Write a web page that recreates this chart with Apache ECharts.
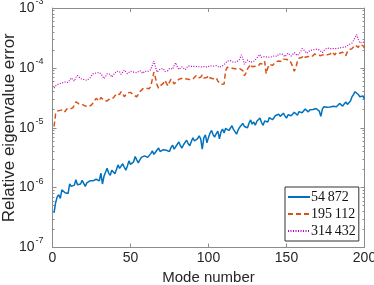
<!DOCTYPE html>
<html><head><meta charset="utf-8">
<script src="https://cdn.jsdelivr.net/npm/echarts@6/dist/echarts.min.js"></script>
<style>html,body{margin:0;padding:0;background:#fff}#c{width:374px;height:285px}</style>
</head><body><div id="c"></div>
<script>
const seriesNames = ['54\u2009872', '195\u2009112', '314\u2009432'];
const xTicks = [0, 50, 100, 150, 200];
const yTicks = [1e-7, 1e-6, 1e-5, 1e-4, 1e-3];
const err54872 = [
0.38e-6,0.56e-6,0.70e-6,0.76e-6,0.66e-6,0.92e-6,0.88e-6,0.82e-6,0.85e-6,0.80e-6,
1.15e-6,1.05e-6,0.98e-6,1.10e-6,1.35e-6,1.12e-6,1.20e-6,1.15e-6,1.32e-6,1.25e-6,
1.05e-6,1.20e-6,1.28e-6,1.30e-6,1.40e-6,1.30e-6,1.22e-6,1.38e-6,1.45e-6,1.30e-6,
1.75e-6,1.15e-6,1.55e-6,1.60e-6,2.10e-6,1.75e-6,1.60e-6,1.95e-6,2.05e-6,1.70e-6,
2.00e-6,2.40e-6,2.10e-6,1.95e-6,2.50e-6,2.20e-6,1.95e-6,2.30e-6,2.80e-6,2.45e-6,
2.30e-6,2.70e-6,3.30e-6,2.90e-6,2.60e-6,2.90e-6,3.20e-6,3.00e-6,3.40e-6,3.60e-6,
3.20e-6,3.40e-6,3.70e-6,4.10e-6,3.60e-6,3.90e-6,4.10e-6,4.60e-6,4.00e-6,3.80e-6,
4.30e-6,4.60e-6,4.20e-6,4.50e-6,4.00e-6,4.70e-6,5.10e-6,4.40e-6,4.70e-6,5.30e-6,
5.80e-6,5.00e-6,4.60e-6,5.20e-6,5.60e-6,6.20e-6,5.40e-6,5.00e-6,5.90e-6,6.80e-6,
6.00e-6,5.60e-6,6.60e-6,7.30e-6,6.50e-6,4.40e-6,6.80e-6,7.60e-6,5.60e-6,6.90e-6,
8.20e-6,9.00e-6,7.60e-6,7.00e-6,8.00e-6,8.80e-6,6.50e-6,8.50e-6,9.50e-6,8.20e-6,
9.80e-6,10.5e-6,9.00e-6,9.80e-6,10.8e-6,9.40e-6,8.60e-6,7.80e-6,9.20e-6,10.2e-6,
11.0e-6,11.8e-6,10.5e-6,11.2e-6,10.0e-6,12.0e-6,13.5e-6,11.5e-6,12.5e-6,11.0e-6,
12.8e-6,13.8e-6,14.5e-6,12.2e-6,11.0e-6,13.0e-6,14.0e-6,12.5e-6,14.8e-6,15.5e-6,
13.6e-6,14.2e-6,16.0e-6,15.2e-6,16.8e-6,15.5e-6,16.0e-6,17.5e-6,15.8e-6,14.5e-6,
16.5e-6,17.2e-6,15.9e-6,16.5e-6,18.2e-6,17.0e-6,16.2e-6,18.6e-6,19.5e-6,17.8e-6,
19.0e-6,20.5e-6,19.2e-6,18.4e-6,20.0e-6,21.5e-6,20.2e-6,19.5e-6,21.0e-6,22.0e-6,
19.0e-6,15.5e-6,20.5e-6,22.5e-6,21.0e-6,22.0e-6,23.5e-6,22.2e-6,21.0e-6,22.8e-6,
24.0e-6,22.5e-6,23.0e-6,25.5e-6,24.0e-6,23.0e-6,25.0e-6,27.0e-6,24.5e-6,26.0e-6,
28.0e-6,33.0e-6,36.0e-6,40.0e-6,43.0e-6,36.0e-6,33.0e-6,35.0e-6,34.0e-6,30.0e-6
];
const err195112 = [
1.05e-5,1.70e-5,1.90e-5,2.05e-5,1.95e-5,2.10e-5,2.00e-5,1.85e-5,2.05e-5,2.20e-5,
2.05e-5,1.95e-5,2.15e-5,2.40e-5,2.70e-5,2.55e-5,2.50e-5,2.65e-5,2.45e-5,2.35e-5,
2.30e-5,2.35e-5,2.25e-5,2.30e-5,2.40e-5,2.60e-5,2.70e-5,3.10e-5,2.95e-5,2.80e-5,
3.20e-5,3.05e-5,2.85e-5,2.75e-5,2.80e-5,2.95e-5,3.10e-5,3.30e-5,3.15e-5,3.40e-5,
3.70e-5,3.45e-5,3.60e-5,4.00e-5,3.70e-5,3.30e-5,3.50e-5,3.80e-5,4.10e-5,3.90e-5,
3.70e-5,3.50e-5,3.40e-5,3.30e-5,3.60e-5,4.00e-5,4.30e-5,4.50e-5,4.80e-5,4.60e-5,
4.70e-5,4.50e-5,4.90e-5,6.50e-5,8.50e-5,6.80e-5,5.20e-5,4.60e-5,5.00e-5,4.70e-5,
5.50e-5,6.20e-5,5.80e-5,5.00e-5,5.80e-5,6.50e-5,6.00e-5,5.40e-5,5.80e-5,6.20e-5,
5.90e-5,6.60e-5,6.20e-5,6.80e-5,7.20e-5,6.50e-5,6.10e-5,6.40e-5,6.90e-5,6.50e-5,
7.00e-5,7.40e-5,6.80e-5,6.50e-5,7.00e-5,7.60e-5,6.80e-5,6.30e-5,6.90e-5,7.50e-5,
6.80e-5,7.20e-5,6.60e-5,6.20e-5,6.80e-5,6.00e-5,5.60e-5,5.30e-5,5.10e-5,5.40e-5,
9.00e-5,10.2e-5,9.60e-5,10.0e-5,9.40e-5,9.80e-5,9.20e-5,9.60e-5,10.0e-5,9.70e-5,
10.4e-5,9.00e-5,7.40e-5,8.20e-5,9.60e-5,10.5e-5,11.5e-5,10.4e-5,9.80e-5,10.6e-5,
11.2e-5,10.8e-5,11.8e-5,12.4e-5,11.6e-5,12.8e-5,8.00e-5,10.0e-5,11.5e-5,12.2e-5,
11.0e-5,11.8e-5,12.6e-5,12.0e-5,13.0e-5,13.5e-5,12.8e-5,14.0e-5,13.2e-5,13.8e-5,
14.5e-5,13.5e-5,12.0e-5,10.5e-5,8.80e-5,10.0e-5,13.0e-5,14.5e-5,14.0e-5,15.0e-5,
16.2e-5,15.0e-5,14.2e-5,15.5e-5,16.5e-5,15.2e-5,16.0e-5,17.0e-5,15.8e-5,16.5e-5,
17.5e-5,16.0e-5,15.0e-5,16.8e-5,17.8e-5,16.5e-5,15.5e-5,17.0e-5,18.5e-5,17.2e-5,
16.5e-5,18.0e-5,19.0e-5,17.5e-5,16.8e-5,18.2e-5,19.5e-5,16.0e-5,18.5e-5,20.0e-5,
19.0e-5,21.0e-5,22.5e-5,24.0e-5,23.0e-5,22.0e-5,24.5e-5,25.5e-5,23.5e-5,21.5e-5
];
const err314432 = [
4.6e-5,5.0e-5,4.8e-5,5.4e-5,5.1e-5,5.6e-5,5.2e-5,5.8e-5,6.2e-5,5.7e-5,
6.0e-5,6.8e-5,6.3e-5,6.0e-5,6.9e-5,7.5e-5,7.0e-5,6.6e-5,6.9e-5,6.4e-5,
6.6e-5,6.2e-5,6.5e-5,6.8e-5,7.4e-5,8.0e-5,7.6e-5,8.2e-5,7.8e-5,8.4e-5,
8.8e-5,7.4e-5,6.6e-5,7.2e-5,8.0e-5,8.6e-5,7.8e-5,7.0e-5,7.6e-5,8.2e-5,
8.8e-5,9.4e-5,8.6e-5,7.8e-5,8.4e-5,9.2e-5,8.6e-5,8.0e-5,8.4e-5,8.8e-5,
8.2e-5,8.5e-5,8.0e-5,8.3e-5,8.6e-5,9.0e-5,8.4e-5,8.1e-5,8.8e-5,9.2e-5,
8.7e-5,8.9e-5,9.3e-5,11.0e-5,13.0e-5,10.5e-5,8.5e-5,9.0e-5,9.6e-5,9.1e-5,
9.7e-5,8.7e-5,8.2e-5,9.0e-5,9.8e-5,10.2e-5,9.5e-5,11.0e-5,12.2e-5,10.4e-5,
9.4e-5,10.0e-5,10.4e-5,9.8e-5,9.3e-5,9.9e-5,10.8e-5,11.6e-5,10.6e-5,10.0e-5,
10.6e-5,11.0e-5,10.5e-5,10.9e-5,10.4e-5,10.8e-5,10.5e-5,10.9e-5,10.3e-5,10.6e-5,
10.8e-5,10.4e-5,10.7e-5,10.5e-5,10.9e-5,10.6e-5,10.2e-5,10.5e-5,10.8e-5,10.3e-5,
12.0e-5,13.0e-5,12.6e-5,13.2e-5,12.8e-5,12.4e-5,13.0e-5,12.6e-5,13.4e-5,14.0e-5,
16.5e-5,14.5e-5,11.5e-5,12.5e-5,13.5e-5,13.0e-5,12.4e-5,11.8e-5,12.8e-5,13.8e-5,
14.6e-5,15.5e-5,16.8e-5,15.0e-5,14.2e-5,15.5e-5,16.2e-5,15.0e-5,14.0e-5,15.2e-5,
14.6e-5,15.8e-5,16.6e-5,15.6e-5,17.0e-5,16.2e-5,17.2e-5,16.0e-5,15.4e-5,16.4e-5,
17.6e-5,16.6e-5,15.8e-5,16.8e-5,18.0e-5,17.0e-5,16.0e-5,16.8e-5,18.5e-5,21.0e-5,
22.5e-5,19.0e-5,17.5e-5,18.4e-5,19.5e-5,18.6e-5,20.0e-5,19.0e-5,20.5e-5,21.5e-5,
20.0e-5,19.0e-5,18.0e-5,19.5e-5,20.5e-5,21.5e-5,22.5e-5,21.0e-5,20.0e-5,21.0e-5,
22.0e-5,21.0e-5,22.5e-5,21.5e-5,23.0e-5,22.0e-5,23.5e-5,22.5e-5,24.0e-5,24.5e-5,
23.5e-5,26.0e-5,28.0e-5,32.0e-5,36.0e-5,30.0e-5,26.0e-5,28.0e-5,27.0e-5,26.0e-5
];
const colors = ['#0072BD', '#D95319', '#BF00BF'];

const minorLog = [];
for (let e = -7; e < -3; e++) for (let k = 2; k <= 9; k++) minorLog.push(e + Math.log10(k));

const axisColor = '#8c8c8c';
const textColor = '#262626';
const sans = 'Liberation Sans, Arial, sans-serif';
const toPairs = arr => arr.map((v, i) => [i + 1, v]);

function yLog(pos, labels) {
  return {
    type: 'log', logBase: 10, min: yTicks[0], max: yTicks[yTicks.length - 1], position: pos,
    axisLine: { show: true, lineStyle: { color: axisColor, width: 1 } },
    axisTick: { show: true, inside: true, length: 4, lineStyle: { color: axisColor } },
    splitLine: { show: false },
    axisLabel: labels ? {
      show: true, margin: 9, color: textColor,
      formatter: v => '{b|10}{s|' + Math.round(Math.log10(v)) + '}',
      rich: {
        b: { fontFamily: sans, fontSize: 14, color: textColor, lineHeight: 14, verticalAlign: 'bottom' },
        s: { fontFamily: sans, fontSize: 9, color: textColor, lineHeight: 9, padding: [0, 0, 9, 1], verticalAlign: 'bottom' }
      }
    } : { show: false },
    name: labels ? 'Relative eigenvalue error' : '',
    nameLocation: 'middle', nameGap: 35, nameMoveOverlap: false,
    nameTextStyle: { fontFamily: sans, fontSize: 17, color: textColor }
  };
}
function yMinor(pos) {
  return {
    type: 'value', min: -7, max: -3, position: pos,
    axisLine: { show: false }, splitLine: { show: false }, axisLabel: { show: false },
    axisTick: { show: true, inside: true, length: 2, customValues: minorLog, lineStyle: { color: axisColor } }
  };
}
function xAx(pos, labels) {
  return {
    type: 'value', min: xTicks[0], max: xTicks[xTicks.length - 1], interval: 50, position: pos,
    axisLine: { show: true, onZero: false, lineStyle: { color: axisColor, width: 1 } },
    axisTick: { show: true, inside: true, length: 4, lineStyle: { color: axisColor } },
    splitLine: { show: false },
    axisLabel: labels ? { show: true, margin: 4, color: textColor, fontFamily: sans, fontSize: 14 } : { show: false },
    name: labels ? 'Mode number' : '',
    nameLocation: 'middle', nameGap: 21,
    nameTextStyle: { fontFamily: sans, fontSize: 15, color: textColor }
  };
}

const chart = echarts.init(document.getElementById('c'), null, { renderer: 'canvas' });
chart.setOption({
  animation: false,
  backgroundColor: '#fff',
  grid: { left: 52.5, right: 9.5, top: 8, bottom: 37.5, containLabel: false, outerBoundsMode: 'none' },
  xAxis: [xAx('bottom', true), xAx('top', false)],
  yAxis: [yLog('left', true), yMinor('left'), yLog('right', false), yMinor('right')],
  legend: {
    orient: 'vertical', left: 285, top: 187,
    backgroundColor: '#fff', borderColor: '#333', borderWidth: 1,
    padding: [3, 3, 3, 2], itemGap: 3, itemWidth: 22, itemHeight: 14,
    itemStyle: { opacity: 0 },
    textStyle: { fontFamily: 'Liberation Serif, Times New Roman, serif', fontSize: 14, color: '#111', padding: [0, 0, 0, -4] },
    data: seriesNames
  },
  series: [
    { name: seriesNames[0], type: 'line', data: toPairs(err54872), xAxisIndex: 0, yAxisIndex: 0, symbol: 'none',
      lineStyle: { color: colors[0], width: 1.5 }, itemStyle: { color: colors[0] } },
    { name: seriesNames[1], type: 'line', data: toPairs(err195112), xAxisIndex: 0, yAxisIndex: 0, symbol: 'none',
      lineStyle: { color: colors[1], width: 1.5, type: [5, 3] }, itemStyle: { color: colors[1] } },
    { name: seriesNames[2], type: 'line', data: toPairs(err314432), xAxisIndex: 0, yAxisIndex: 0, symbol: 'none',
      lineStyle: { color: colors[2], width: 1.2, type: [1, 1.5] }, itemStyle: { color: colors[2] } }
  ]
});
</script></body></html>
